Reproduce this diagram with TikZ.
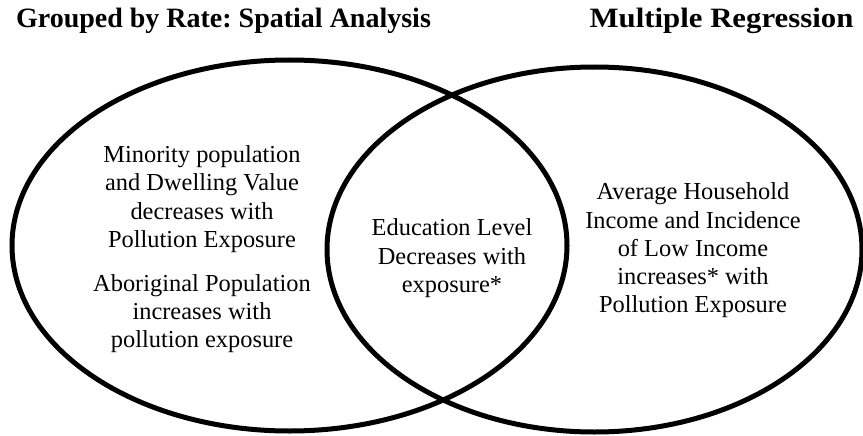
\documentclass[tikz,border=0pt]{standalone}
\usepackage{fontspec}
\setmainfont{Liberation Serif}
\usetikzlibrary{shapes.geometric}
\frenchspacing
\begin{document}
\begin{tikzpicture}[x=1pt,y=-1pt,
  setring/.style={draw=black, line width=5pt, ellipse, inner sep=0pt, outer sep=0pt},
  heading/.style={font=\bfseries\fontsize{28}{32}\selectfont, inner sep=0pt},
  body/.style={font=\fontsize{24.4}{28.3}\selectfont, align=center, inner sep=0pt}]
  \useasboundingbox (0,0) rectangle (863,436);
  % the two overlapping sets
  \node[setring, minimum width=555pt, minimum height=371pt] (left) at (289.5,245.5) {};
  \node[setring, minimum width=535pt, minimum height=365pt] (right) at (594.5,249.5) {};
  % set headings
  \node[heading] (lefthead) at (223.5,21) {Grouped by Rate: Spatial Analysis};
  \node[heading] (righthead) at (721.5,21) {\scalebox{1.10}[1]{Multiple Regression}};
  % set contents
  \node[body] (minority) at (202,199.2) {Minority population\\and Dwelling Value\\decreases with\\Pollution Exposure};
  \node[body] (aboriginal) at (202,313.8) {Aboriginal Population\\increases with\\pollution exposure};
  \node[body] (education) at (452,258.3) {Education Level\\Decreases with\\exposure*};
  \node[body] (income) at (693,250.5) {Average Household\\Income and Incidence\\of Low Income\\increases* with\\Pollution Exposure};
\end{tikzpicture}
\end{document}
